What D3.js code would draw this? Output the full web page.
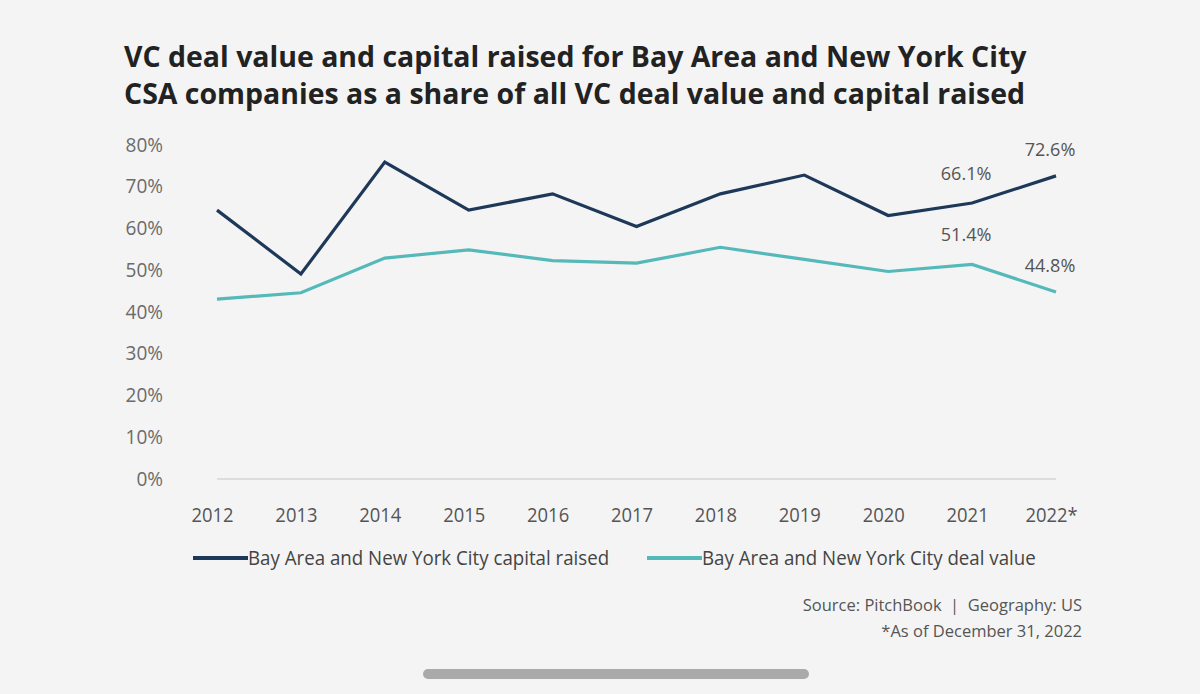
<!DOCTYPE html>
<html>
<head>
<meta charset="utf-8">
<script src="https://cdn.jsdelivr.net/npm/d3@7"></script>
<style>
  body { margin: 0; background: #f4f4f4; }
  svg { display: block; }
  .narrow { font-family: "Open Sans", sans-serif; }
</style>
</head>
<body>
<div id="chart"></div>
<script>
// data
const years = ['2012','2013','2014','2015','2016','2017','2018','2019','2020','2021','2022'];
const yearLabels = ['2012','2013','2014','2015','2016','2017','2018','2019','2020','2021','2022*'];
const capitalRaised = [64.4, 49.1, 75.9, 64.4, 68.3, 60.5, 68.3, 72.8, 63.1, 66.1, 72.6];
const dealValue = [43.1, 44.6, 52.9, 54.9, 52.3, 51.7, 55.5, 52.6, 49.7, 51.4, 44.8];
const yTicks = [0, 10, 20, 30, 40, 50, 60, 70, 80];
const seriesNames = ['Bay Area and New York City capital raised', 'Bay Area and New York City deal value'];
const labelled = ['2021', '2022'];

const width = 1200;
const height = 694;
const colors = ['#1d3858', '#55b9b9'];

// squeeze text a little to mimic the narrow face of the original
function condense(sel, k) {
    sel.each(function() {
        const len = this.getComputedTextLength();
        d3.select(this).attr('textLength', len * k).attr('lengthAdjust', 'spacingAndGlyphs');
    });
}

const svg = d3.select('div#chart').append('svg').attr('width', width).attr('height', height);
svg.append('rect').attr('width', width).attr('height', height).attr('fill', '#f4f4f4');

// title
const titleLines = ['VC deal value and capital raised for Bay Area and New York City',
                    'CSA companies as a share of all VC deal value and capital raised'];
const title = svg.append('g').attr('class', 'title');
title.selectAll('text').data(titleLines).enter().append('text')
    .attr('x', 124)
    .attr('y', (d, i) => 67 + i * 37)
    .attr('font-family', '"Open Sans", sans-serif')
    .attr('font-weight', 700)
    .attr('font-size', 26)
    .attr('fill', '#222')
    .text(d => d);

// fit the first title line to the reference width
const t0 = title.select('text').node().getComputedTextLength();
title.selectAll('text').attr('font-size', 26 * 903 / t0);

const x = d3.scalePoint().domain(years).range([217, 1056]);
const y = d3.scaleLinear().domain([0, 80]).range([479, 145]);

// y axis (labels only)
const yAxis = d3.axisLeft(y).tickValues(yTicks).tickFormat(d => d + '%').tickSize(0).tickPadding(0);
const yAxisGroup = svg.append('g').attr('transform', 'translate(163,-1)').call(yAxis);
yAxisGroup.attr('font-family', null).attr('class', 'narrow');
yAxisGroup.select('.domain').remove();
yAxisGroup.selectAll('text').attr('font-size', 20).attr('fill', '#6b6b6b').attr('dy', '0.35em');
condense(yAxisGroup.selectAll('text'), 0.95);

// x axis: baseline + year labels
const xAxis = d3.axisBottom(x).tickFormat((d, i) => yearLabels[i]).tickSize(0).tickPadding(0);
const xAxisGroup = svg.append('g').attr('transform', 'translate(-5,522)').call(xAxis);
xAxisGroup.attr('font-family', null).attr('class', 'narrow');
xAxisGroup.select('.domain').remove();
xAxisGroup.selectAll('text').attr('font-size', 20).attr('fill', '#555').attr('dy', 0);
condense(xAxisGroup.selectAll('text'), 0.92);

svg.append('line')
    .attr('x1', x(years[0])).attr('x2', x(years[years.length - 1]))
    .attr('y1', y(0)).attr('y2', y(0))
    .attr('stroke', '#d6d6d6').attr('stroke-width', 1.5);

// lines
const line = d3.line().x((d, i) => x(years[i])).y(d => y(d));
const series = [capitalRaised, dealValue];
svg.append('g').selectAll('path').data(series).enter().append('path')
    .attr('d', d => line(d))
    .attr('fill', 'none')
    .attr('stroke', (d, i) => colors[i])
    .attr('stroke-width', 3.2)
    .attr('stroke-linejoin', 'miter');

// value labels for the last two years
const valueLabels = svg.append('g').attr('class', 'narrow');
series.forEach((s, si) => {
    labelled.forEach(yr => {
        const i = years.indexOf(yr);
        valueLabels.append('text')
            .attr('x', x(yr) - 6)
            .attr('y', y(s[i]) - (yr === '2022' ? 20 : 23))
            .attr('text-anchor', 'middle')
            .attr('font-size', 19)
            .attr('fill', '#555')
            .text(s[i].toFixed(1) + '%');
    });
});
condense(valueLabels.selectAll('text'), 0.95);

// legend
const legend = svg.append('g').attr('class', 'narrow');
const legendX = [193, 647];
seriesNames.forEach((n, i) => {
    legend.append('line')
        .attr('x1', legendX[i]).attr('x2', legendX[i] + 55)
        .attr('y1', 558).attr('y2', 558)
        .attr('stroke', colors[i]).attr('stroke-width', 4);
    legend.append('text')
        .attr('x', legendX[i] + 55).attr('y', 565)
        .attr('font-size', 20).attr('fill', '#444')
        .text(n);
});
condense(legend.selectAll('text'), 0.935);

// source
const source = svg.append('g')
    .attr('font-family', '"Open Sans", sans-serif')
    .attr('font-size', 16.5).attr('fill', '#555').attr('text-anchor', 'end');
source.append('text').attr('x', 1082).attr('y', 611).text('Source: PitchBook\u00a0\u00a0|\u00a0\u00a0Geography: US');
source.append('text').attr('x', 1082).attr('y', 637).text('*As of December 31, 2022');

// phone home indicator
svg.append('rect').attr('x', 423).attr('y', 669).attr('width', 386).attr('height', 10)
    .attr('rx', 5).attr('fill', '#aaaaaa');
</script>
</body>
</html>
